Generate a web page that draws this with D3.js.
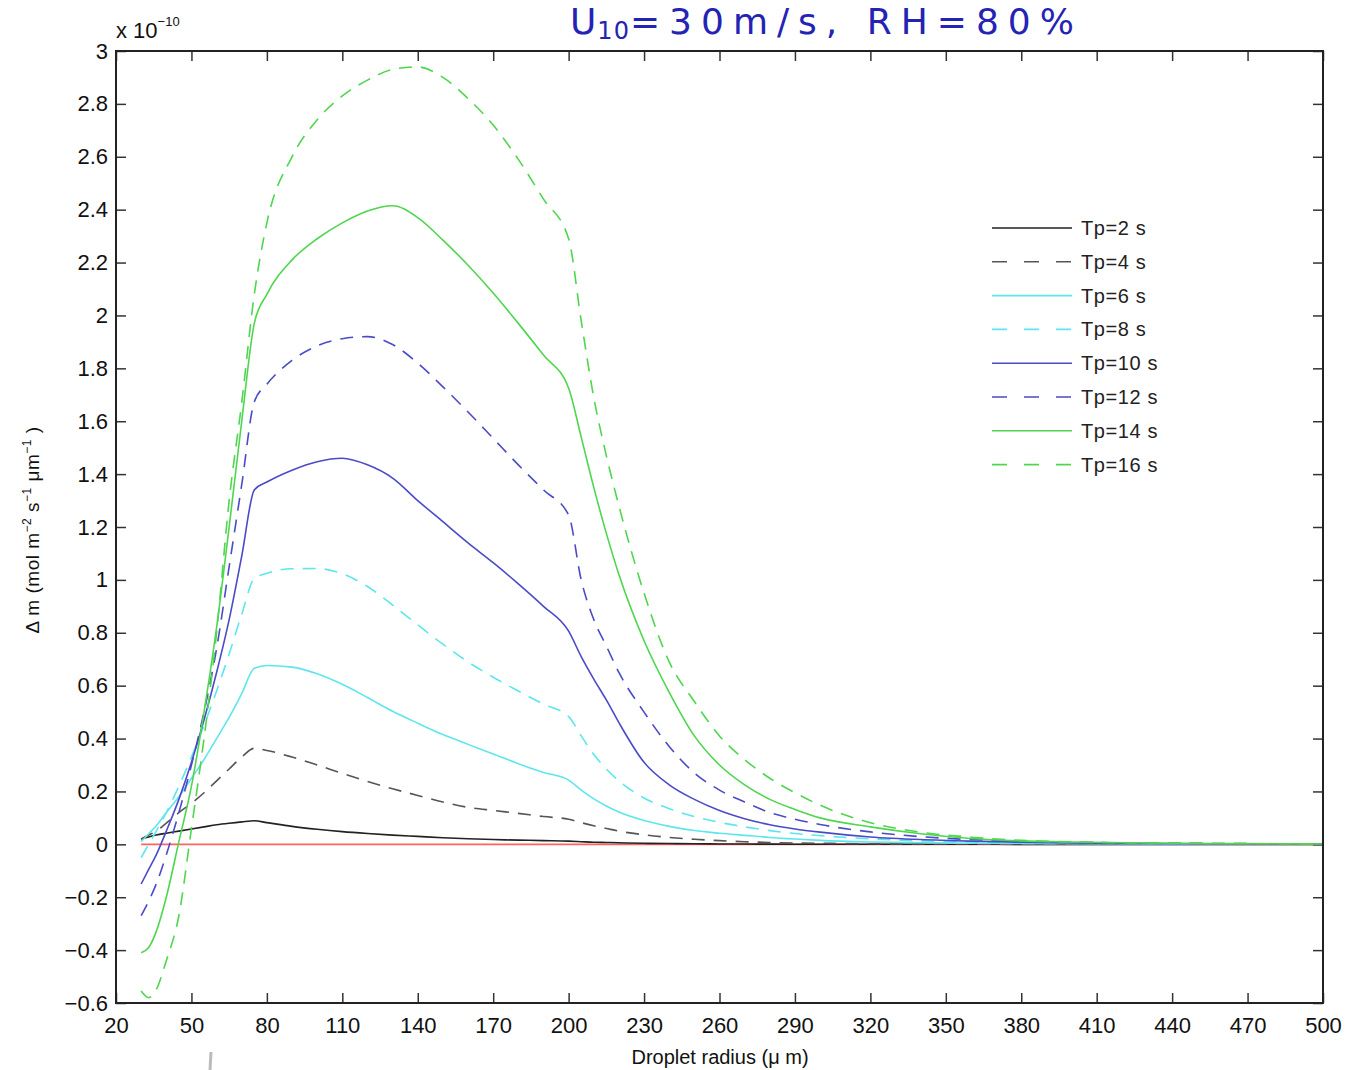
<!DOCTYPE html>
<html>
<head>
<meta charset="utf-8">
<script src="https://cdn.jsdelivr.net/npm/d3@7"></script>
<style>
  body { margin: 0; background: #fff; }
  text { font-family: "Liberation Sans", Arial, sans-serif; }
</style>
</head>
<body>
<script>
var svgWidth = 1351;
var svgHeight = 1070;
var margin = { top: 51, right: 28, bottom: 67, left: 116 };

// droplet radius (um)
var radius = [30, 33, 36, 40, 45, 50, 55, 60, 65, 70, 75, 80, 90, 100, 110, 120, 130, 140, 150, 160, 170, 180, 190, 200,
    205, 210, 215, 220, 230, 240, 250, 260, 270, 280, 290, 300, 320, 340, 360, 380, 400, 430, 460, 500];

// delta m, units of 1e-10
var tp2 = [0.02, 0.028, 0.035, 0.042, 0.05, 0.058, 0.066, 0.074, 0.08, 0.085, 0.089, 0.082, 0.068, 0.057, 0.048, 0.041, 0.035, 0.03, 0.025, 0.021, 0.018, 0.016, 0.014, 0.012,
    0.01, 0.008, 0.007, 0.006, 0.004, 0.003, 0.002, 0.0015, 0.001, 0.0008, 0.0006, 0.0005, 0.0003, 0.0002, 0.0001, 0, 0, 0, 0, 0];
var tp4 = [0.02, 0.035, 0.05, 0.08, 0.12, 0.155, 0.195, 0.24, 0.285, 0.33, 0.363, 0.355, 0.33, 0.30, 0.268, 0.238, 0.21, 0.185, 0.16, 0.14, 0.128, 0.117, 0.105, 0.095,
    0.082, 0.07, 0.06, 0.05, 0.036, 0.026, 0.019, 0.014, 0.01, 0.007, 0.005, 0.004, 0.002, 0.0015, 0.001, 0.0007, 0.0005, 0.0003, 0.0002, 0.0001];
var tp6 = [0.01, 0.04, 0.07, 0.12, 0.18, 0.25, 0.32, 0.40, 0.48, 0.57, 0.666, 0.676, 0.67, 0.645, 0.605, 0.555, 0.503, 0.458, 0.415, 0.378, 0.342, 0.305, 0.272, 0.243,
    0.205, 0.172, 0.145, 0.122, 0.09, 0.068, 0.052, 0.042, 0.034, 0.026, 0.02, 0.015, 0.009, 0.006, 0.004, 0.003, 0.002, 0.001, 0.0007, 0.0004];
var tp8 = [-0.05, 0.0, 0.05, 0.12, 0.22, 0.33, 0.45, 0.58, 0.72, 0.87, 1.005, 1.025, 1.042, 1.043, 1.023, 0.975, 0.905, 0.83, 0.757, 0.69, 0.632, 0.58, 0.53, 0.483,
    0.41, 0.34, 0.285, 0.24, 0.175, 0.135, 0.105, 0.083, 0.066, 0.052, 0.041, 0.033, 0.021, 0.013, 0.009, 0.006, 0.004, 0.0025, 0.0015, 0.0008];
var tp10 = [-0.15, -0.095, -0.04, 0.05, 0.17, 0.31, 0.47, 0.65, 0.85, 1.09, 1.34, 1.37, 1.415, 1.447, 1.46, 1.435, 1.385, 1.30, 1.22, 1.14, 1.065, 0.985, 0.9, 0.806,
    0.71, 0.625, 0.546, 0.46, 0.31, 0.225, 0.17, 0.128, 0.097, 0.074, 0.058, 0.046, 0.028, 0.018, 0.012, 0.008, 0.005, 0.003, 0.002, 0.001];
var tp12 = [-0.27, -0.215, -0.15, -0.04, 0.12, 0.30, 0.50, 0.74, 1.05, 1.36, 1.674, 1.74, 1.83, 1.885, 1.912, 1.92, 1.89, 1.82, 1.73, 1.635, 1.535, 1.435, 1.34, 1.245,
    1.0, 0.85, 0.75, 0.65, 0.5, 0.37, 0.27, 0.205, 0.16, 0.12, 0.095, 0.075, 0.047, 0.029, 0.018, 0.012, 0.008, 0.005, 0.003, 0.0015];
var tp14 = [-0.41, -0.39, -0.33, -0.2, 0.01, 0.22, 0.5, 0.82, 1.2, 1.6, 1.97, 2.08, 2.21, 2.29, 2.35, 2.395, 2.415, 2.37, 2.285, 2.19, 2.085, 1.97, 1.85, 1.725,
    1.54, 1.35, 1.176, 1.02, 0.77, 0.575, 0.41, 0.3, 0.225, 0.17, 0.132, 0.1, 0.066, 0.04, 0.022, 0.013, 0.009, 0.005, 0.003, 0.0015];
var tp16 = [-0.555, -0.58, -0.55, -0.44, -0.27, 0.06, 0.4, 0.8, 1.3, 1.67, 2.08, 2.35, 2.6, 2.74, 2.83, 2.89, 2.93, 2.94, 2.9, 2.82, 2.72, 2.59, 2.44, 2.29,
    1.98, 1.69, 1.47, 1.28, 0.95, 0.69, 0.54, 0.41, 0.32, 0.25, 0.195, 0.148, 0.082, 0.046, 0.027, 0.015, 0.009, 0.005, 0.003, 0.0015];

var seriesNames = ["Tp=2 s", "Tp=4 s", "Tp=6 s", "Tp=8 s", "Tp=10 s", "Tp=12 s", "Tp=14 s", "Tp=16 s"];
var seriesValues = [tp2, tp4, tp6, tp8, tp10, tp12, tp14, tp16];

var xTicks = [20, 50, 80, 110, 140, 170, 200, 230, 260, 290, 320, 350, 380, 410, 440, 470, 500];
var yTicks = [-0.6, -0.4, -0.2, 0, 0.2, 0.4, 0.6, 0.8, 1, 1.2, 1.4, 1.6, 1.8, 2, 2.2, 2.4, 2.6, 2.8, 3];

var colors = ["#222", "#555", "#5ee6ee", "#5ee6ee", "#4b4bc8", "#4b4bc8", "#4fd64f", "#4fd64f"];
var dashes = [null, "13,9", null, "13,9", null, "13,9", null, "13,9"];

var width = svgWidth - margin.left - margin.right;
var height = svgHeight - margin.top - margin.bottom;

var svg = d3.select("body")
    .append("svg")
    .attr("width", svgWidth)
    .attr("height", svgHeight);

// handwritten note at the top of the picture
var note = svg.append("text")
    .attr("x", 570)
    .attr("y", 34)
    .attr("fill", "#2323b4")
    .style("font-family", "'DejaVu Sans', sans-serif")
    .style("font-size", "36px");
note.append("tspan").style("letter-spacing", "1px").text("U");
note.append("tspan").attr("dy", 5).style("font-size", "24px").style("letter-spacing", "1px").text("10");
note.append("tspan").attr("dy", -5).style("letter-spacing", "9px").text("=30m/s, RH=80%");

var g = svg.append("g")
    .attr("transform", "translate(" + margin.left + "," + margin.top + ")");

var x = d3.scaleLinear().domain([20, 500]).range([0, width]);
var y = d3.scaleLinear().domain([-0.6, 3]).range([height, 0]);

var tickFmt = d => d === 0 ? "0" : d3.format("~g")(d).replace("-", "\u2212");

function styleAxis(sel, show) {
    sel.select(".domain").remove();
    sel.selectAll(".tick line").attr("stroke", "#333").attr("stroke-width", 1.5);
    sel.selectAll(".tick text")
        .style("font-size", "22px")
        .style("font-family", "'Liberation Sans', Arial, sans-serif")
        .attr("fill", "#111")
        .style("display", show ? null : "none");
}

g.append("g")
    .attr("transform", "translate(0," + height + ")")
    .call(d3.axisBottom(x).tickValues(xTicks).tickSizeInner(-10).tickSizeOuter(0).tickPadding(14))
    .call(s => styleAxis(s, true));
g.append("g")
    .call(d3.axisTop(x).tickValues(xTicks).tickSizeInner(-10).tickSizeOuter(0))
    .call(s => styleAxis(s, false));
g.append("g")
    .call(d3.axisLeft(y).tickValues(yTicks).tickFormat(tickFmt).tickSizeInner(-10).tickSizeOuter(0).tickPadding(8))
    .call(s => styleAxis(s, true));
g.append("g")
    .attr("transform", "translate(" + width + ",0)")
    .call(d3.axisRight(y).tickValues(yTicks).tickSizeInner(-10).tickSizeOuter(0))
    .call(s => styleAxis(s, false));

// zero reference line
g.append("line")
    .attr("x1", x(radius[0]))
    .attr("x2", x(radius[radius.length - 1]))
    .attr("y1", y(0))
    .attr("y2", y(0))
    .attr("stroke", "#ff6262")
    .attr("stroke-width", 1.8);

var line = d3.line()
    .x(d => x(d[0]))
    .y(d => y(d[1]))
    .curve(d3.curveMonotoneX);

var series = seriesValues.map((vals, i) => ({
    name: seriesNames[i],
    points: radius.map((r, j) => [r, vals[j]]),
    color: colors[i],
    dash: dashes[i]
}));

g.selectAll(".series")
    .data(series).enter()
    .append("path")
    .attr("class", "series")
    .attr("d", d => line(d.points))
    .attr("fill", "none")
    .attr("stroke", d => d.color)
    .attr("stroke-width", 1.6)
    .attr("stroke-dasharray", d => d.dash);

// frame
g.append("rect")
    .attr("width", width)
    .attr("height", height)
    .attr("fill", "none")
    .attr("stroke", "#222")
    .attr("stroke-width", 2);

// exponent label
var expo = svg.append("text")
    .attr("x", 116)
    .attr("y", 38)
    .attr("fill", "#111")
    .style("font-size", "22px");
expo.append("tspan").text("x 10");
expo.append("tspan").attr("dy", -12).style("font-size", "13px").text("\u221210");

// axis titles
svg.append("text")
    .attr("x", 720)
    .attr("y", 1064)
    .attr("text-anchor", "middle")
    .attr("fill", "#111")
    .style("font-size", "20px")
    .text("Droplet radius (\u03bc m)");

var yl = svg.append("text")
    .attr("transform", "translate(39,530) rotate(-90)")
    .attr("text-anchor", "middle")
    .attr("fill", "#111")
    .style("font-size", "19px")
    .style("letter-spacing", "0.5px");
yl.append("tspan").text("\u0394 m    (mol m");
yl.append("tspan").attr("dy", -8).style("font-size", "12px").text("\u22122");
yl.append("tspan").attr("dy", 8).text(" s");
yl.append("tspan").attr("dy", -8).style("font-size", "12px").text("\u22121");
yl.append("tspan").attr("dy", 8).text(" \u03bcm");
yl.append("tspan").attr("dy", -8).style("font-size", "12px").text("\u22121");
yl.append("tspan").attr("dy", 8).text("  )");

// legend
var legend = svg.append("g").attr("transform", "translate(992,228)");
var rows = legend.selectAll(".row")
    .data(series).enter()
    .append("g")
    .attr("transform", (d, i) => "translate(0," + (i * 33.8) + ")");
rows.append("line")
    .attr("x1", 0).attr("x2", 80)
    .attr("stroke", d => d.color)
    .attr("stroke-width", 1.6)
    .attr("stroke-dasharray", d => d.dash ? "15,17" : null);
rows.append("text")
    .attr("x", 89)
    .attr("dy", "0.35em")
    .attr("fill", "#222")
    .style("font-size", "20px")
    .style("letter-spacing", "0.6px")
    .text(d => d.name);

// small stray pen mark below the axis
svg.append("line")
    .attr("x1", 211).attr("x2", 210)
    .attr("y1", 1052).attr("y2", 1070)
    .attr("stroke", "#bbb")
    .attr("stroke-width", 3);
</script>
</body>
</html>
